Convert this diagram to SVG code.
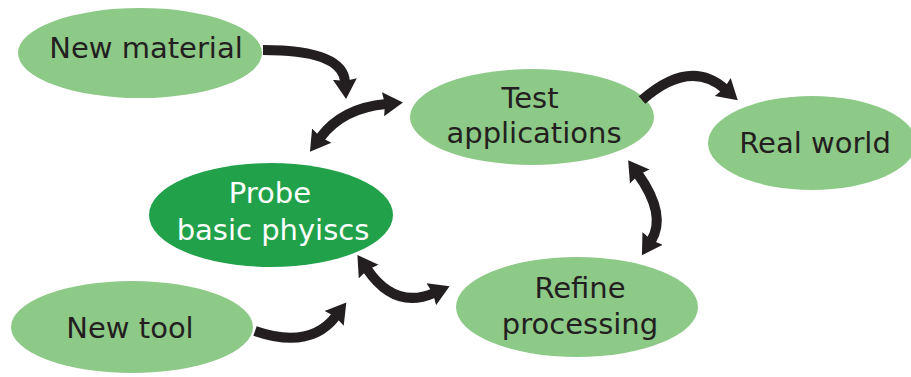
<svg xmlns="http://www.w3.org/2000/svg" width="911" height="377" viewBox="0 0 911 377">
<defs>
<style>
.n{fill:#8dc987}
.d{fill:#21a24a}
.t{font-family:"DejaVu Sans",Verdana,sans-serif;font-size:29px;fill:#231f20;text-anchor:middle}
.w{fill:#ffffff}
.c{fill:none;stroke:#231f20;stroke-width:10}
</style>
<marker id="ah" markerUnits="userSpaceOnUse" markerWidth="22" markerHeight="26" viewBox="0 0 22 26" refX="3" refY="13" orient="auto-start-reverse">
<path d="M0,1 L20,13 L0,25 L2,13 Z" fill="#231f20"/>
</marker>
</defs>
<rect width="911" height="377" fill="#ffffff"/>
<g id="new-material"><ellipse class="n" cx="140" cy="53" rx="122" ry="45"/><text class="t" x="146" y="58">New material</text></g>
<g id="test-applications"><ellipse class="n" cx="532" cy="117" rx="122" ry="48"/><text class="t" x="530" y="108">Test</text><text class="t" x="534" y="143">applications</text></g>
<g id="real-world"><ellipse class="n" cx="812" cy="143" rx="104" ry="47"/><text class="t" x="815" y="153">Real world</text></g>
<g id="probe"><ellipse class="d" cx="271" cy="215" rx="122" ry="52"/><text class="t w" x="270" y="203">Probe</text><text class="t w" x="273" y="240">basic phyiscs</text></g>
<g id="refine-processing"><ellipse class="n" cx="577" cy="307" rx="121" ry="50"/><text class="t" x="580" y="298">Refine</text><text class="t" x="580" y="334">processing</text></g>
<g id="new-tool"><ellipse class="n" cx="132" cy="327" rx="121" ry="46"/><text class="t" x="130" y="338">New tool</text></g>
<g id="connectors">
<path class="c" d="M263,50 Q343,50 345,82" marker-end="url(#ah)"/>
<path class="c" d="M320,138 Q342,108 386,104" marker-start="url(#ah)" marker-end="url(#ah)"/>
<path class="c" d="M642,100 Q690,58 725,89" marker-end="url(#ah)"/>
<path class="c" d="M638,174 C655,198 663,222 651,241" marker-start="url(#ah)" marker-end="url(#ah)"/>
<path class="c" d="M367,269 Q395,310 434,293" marker-start="url(#ah)" marker-end="url(#ah)"/>
<path class="c" d="M255,331 Q310,350 336,316" marker-end="url(#ah)"/>
</g>
</svg>
